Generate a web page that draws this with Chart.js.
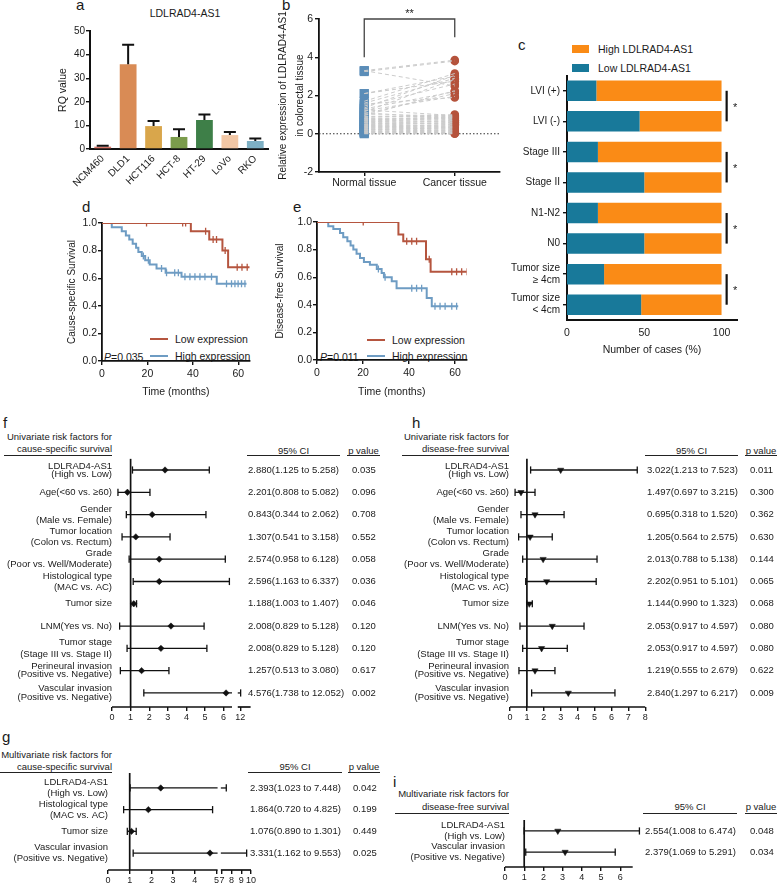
<!DOCTYPE html>
<html><head><meta charset="utf-8">
<script src="https://cdn.jsdelivr.net/npm/chart.js@4.4.1/dist/chart.umd.min.js"></script>
<style>
html,body{margin:0;padding:0;background:#fff;}
body{width:778px;height:884px;position:relative;overflow:hidden;font-family:"Liberation Sans",Arial,Helvetica,sans-serif;color:#1a1a1a;}
canvas{position:absolute;}
.t{position:absolute;white-space:nowrap;line-height:1;}
.pl{font-size:15px;}
.hd{position:absolute;font-size:9.5px;line-height:12px;text-align:right;white-space:nowrap;}
.ul{position:absolute;height:1.4px;background:#222;}
.ch{position:absolute;font-size:9.5px;line-height:11px;text-align:center;white-space:nowrap;}
.lg{position:absolute;font-size:10.5px;line-height:12px;white-space:nowrap;}
.sw{position:absolute;}
</style></head><body>
<div class="t pl" style="left:76px;top:-3px">a</div>
<div class="t pl" style="left:282px;top:-3px">b</div>
<div class="t pl" style="left:518px;top:37px">c</div>
<div class="t pl" style="left:82px;top:199px">d</div>
<div class="t pl" style="left:293px;top:199px">e</div>
<div class="t pl" style="left:3px;top:415px">f</div>
<div class="t pl" style="left:412px;top:415px">h</div>
<div class="t pl" style="left:2px;top:729px">g</div>
<div class="t pl" style="left:393px;top:774px">i</div>

<div class="lg" style="left:135px;top:7px;width:100px;text-align:center">LDLRAD4-AS1</div>

<div class="sw" style="left:572px;top:45px;width:17px;height:8px;background:#FA8B16"></div>
<div class="lg" style="left:598px;top:43px">High LDLRAD4-AS1</div>
<div class="sw" style="left:572px;top:64px;width:17px;height:8px;background:#18799A"></div>
<div class="lg" style="left:598px;top:62px">Low LDLRAD4-AS1</div>

<div class="sw" style="left:150px;top:338px;width:18px;height:2.2px;background:#B5553F"></div>
<div class="lg" style="left:175px;top:333px">Low expression</div>
<div class="sw" style="left:150px;top:355px;width:18px;height:2.2px;background:#6E9CC3"></div>
<div class="lg" style="left:175px;top:350px">High expression</div>
<div class="lg" style="left:104px;top:351px"><i>P</i>=0.035</div>

<div class="sw" style="left:367px;top:339px;width:18px;height:2.2px;background:#B5553F"></div>
<div class="lg" style="left:392px;top:334px">Low expression</div>
<div class="sw" style="left:367px;top:355px;width:18px;height:2.2px;background:#6E9CC3"></div>
<div class="lg" style="left:392px;top:350px">High expression</div>
<div class="lg" style="left:320px;top:351px"><i>P</i>=0.011</div>

<div class="hd" style="left:0px;top:431px;width:112px">Univariate risk factors for<br>cause-specific survival</div>
<div class="ul" style="left:4px;top:455px;width:108px"></div>
<div class="ch" style="left:247px;top:445px;width:93px">95% CI</div>
<div class="ul" style="left:247px;top:455px;width:93px"></div>
<div class="ch" style="left:347px;top:445px;width:33px">p value</div>
<div class="ul" style="left:347px;top:455px;width:33px"></div>

<div class="hd" style="left:395px;top:431px;width:114px">Univariate risk factors for<br>disease-free survival</div>
<div class="ul" style="left:402px;top:455px;width:107px"></div>
<div class="ch" style="left:645px;top:445px;width:93px">95% CI</div>
<div class="ul" style="left:645px;top:455px;width:93px"></div>
<div class="ch" style="left:745px;top:445px;width:32px">p value</div>
<div class="ul" style="left:745px;top:455px;width:32px"></div>

<div class="hd" style="left:0px;top:749px;width:112px">Multivariate risk factors for<br>cause-specific survival</div>
<div class="ul" style="left:0px;top:772px;width:112px"></div>
<div class="ch" style="left:248px;top:761px;width:94px">95% CI</div>
<div class="ul" style="left:248px;top:772px;width:94px"></div>
<div class="ch" style="left:348px;top:761px;width:32px">p value</div>
<div class="ul" style="left:348px;top:772px;width:32px"></div>

<div class="hd" style="left:395px;top:787px;width:114px;line-height:13px">Multivariate risk factors for<br>disease-free survival</div>
<div class="ul" style="left:395px;top:813px;width:114px"></div>
<div class="ch" style="left:643px;top:801px;width:94px">95% CI</div>
<div class="ul" style="left:643px;top:813px;width:94px"></div>
<div class="ch" style="left:745px;top:801px;width:32px">p value</div>
<div class="ul" style="left:745px;top:813px;width:32px"></div>

<canvas id="ca" width="275" height="190" style="left:0px;top:0px"></canvas>
<canvas id="cb" width="270" height="195" style="left:250px;top:0px"></canvas>
<canvas id="cc" width="283" height="330" style="left:495px;top:30px"></canvas>
<canvas id="cd" width="225" height="207" style="left:30px;top:195px"></canvas>
<canvas id="ce" width="225" height="207" style="left:250px;top:195px"></canvas>
<canvas id="cf" width="390" height="290" style="left:0px;top:440px"></canvas>
<canvas id="ch" width="393" height="290" style="left:385px;top:440px"></canvas>
<canvas id="cg" width="390" height="124" style="left:0px;top:760px"></canvas>
<canvas id="ci" width="393" height="78" style="left:385px;top:806px"></canvas>

<script>
// ================= DATA =================
// (a) RQ values by cell line
const cellLines = ['NCM460','DLD1','HCT116','HCT-8','HT-29','LoVo','RKO'];
const rqMean  = [1.0, 35.9, 9.7, 5.1, 12.3, 5.9, 3.4];
const rqUpper = [1.4, 44.2, 11.9, 8.4, 14.6, 7.2, 4.4];

// (b) paired expression, normal vs cancer tissue
const tissueGroups = ['Normal tissue','Cancer tissue'];
const normalExpr = [3.30,3.30,3.25,2.10,2.10,1.70,1.60,1.45,1.35,1.30,1.20,1.15,1.05,1.00,0.95,0.90,0.85,0.80,0.78,0.75,0.70,0.68,0.65,0.60,0.58,0.55,0.50,0.48,0.45,0.42,0.40,0.38,0.35,0.32,0.30,0.28,0.25,0.22,0.20,0.18,0.15,0.12,0.10,0.08,0.05,0.03,0.00,1.55,1.25,1.10];
const cancerExpr = [3.85,2.50,3.80,3.00,2.75,3.15,2.90,2.60,3.05,2.20,1.95,2.85,2.10,0.95,2.25,0.90,1.00,0.85,0.80,0.70,0.90,0.75,0.60,0.85,0.65,0.50,0.70,0.55,0.40,0.60,0.35,0.45,0.30,0.50,0.25,0.40,0.20,0.30,0.15,0.35,0.10,0.20,0.05,0.15,0.02,0.08,0.00,1.90,0.95,0.80];

// (c) clinical groups, % of cases
const clinGroups = ['LVI (+)','LVI (-)','Stage III','Stage II','N1-N2','N0',['Tumor size','≥ 4cm'],['Tumor size','< 4cm']];
const lowPct  = [19, 47, 20, 50, 20, 50, 24, 48];
const highPct = [81, 53, 80, 50, 80, 50, 76, 52];
const sigPairs = [[0,1],[2,3],[4,5],[6,7]];

// (d) cause-specific survival (Kaplan-Meier)
const csLowTime  = [0, 39.1, 47.2, 53.0, 55.5, 65.0];
const csLowSurv  = [1, 0.94, 0.88, 0.80, 0.68, 0.68];
const csLowCens  = [19.6, 35.5, 36.8, 45.6, 48.9, 50.4, 54.2, 59.5, 61.6, 63.9];
const csHighTime = [0, 4.3, 8.7, 10.5, 12.0, 13.5, 15.0, 16.0, 17.5, 19.0, 21.0, 24.0, 28.0, 35.0, 50.5, 63.6];
const csHighSurv = [1, 0.97, 0.94, 0.91, 0.88, 0.85, 0.82, 0.79, 0.76, 0.73, 0.70, 0.67, 0.64, 0.61, 0.56, 0.56];
const csHighCens = [18.2, 20.4, 26.2, 28.4, 32.0, 33.6, 36.5, 38.7, 40.9, 43.1, 45.3, 48.2, 54.8, 57.0, 58.5, 59.9, 61.4, 62.9];

// (e) disease-free survival (Kaplan-Meier)
const dfsLowTime  = [0, 35.4, 37.5, 47.4, 49.4, 65.3];
const dfsLowSurv  = [1, 0.91, 0.86, 0.73, 0.64, 0.64];
const dfsLowCens  = [20.1, 39.0, 41.2, 43.3, 48.8, 58.6, 60.7, 62.9, 65.1];
const dfsHighTime = [0, 4.9, 7.1, 10.0, 11.4, 13.2, 14.6, 15.8, 17.2, 18.7, 20.4, 23.0, 26.0, 28.1, 29.1, 32.5, 34.6, 47.7, 49.9, 61.4];
const dfsHighSurv = [1, 0.97, 0.95, 0.92, 0.89, 0.86, 0.83, 0.80, 0.77, 0.74, 0.71, 0.69, 0.66, 0.63, 0.60, 0.57, 0.52, 0.45, 0.39, 0.39];
const dfsHighCens = [26.7, 29.6, 41.2, 43.3, 45.5, 51.3, 53.5, 55.7, 58.6, 60.7];

const kmTicks = [0, 20, 40, 60];

// (f)/(h) univariate factors
const uniFactors = [['LDLRAD4-AS1','(High vs. Low)'],'Age(<60 vs. ≥60)',['Gender','(Male vs. Female)'],['Tumor location','(Colon vs. Rectum)'],['Grade','(Poor vs. Well/Moderate)'],['Histological type','(MAC vs. AC)'],'Tumor size','LNM(Yes vs. No)',['Tumor stage','(Stage III vs. Stage II)'],['Perineural invasion','(Positive vs. Negative)'],['Vascular invasion','(Positive vs. Negative)']];
// (f) cause-specific, univariate (plotted HR and CI)
const csUniHR = [2.85, 0.83, 2.16, 1.28, 2.54, 2.54, 1.17, 3.17, 2.63, 1.59, 6.13];
const csUniLo = [1.10, 0.32, 0.77, 0.54, 0.92, 1.14, 1.01, 0.41, 0.81, 0.45, 1.71];
const csUniHi = [5.23, 2.04, 5.05, 3.12, 6.09, 6.31, 1.32, 4.95, 5.10, 3.06, 12.05];
const csUniCI = ['2.880(1.125 to 5.258)','2.201(0.808 to 5.082)','0.843(0.344 to 2.062)','1.307(0.541 to 3.158)','2.574(0.958 to 6.128)','2.596(1.163 to 6.337)','1.188(1.003 to 1.407)','2.008(0.829 to 5.128)','2.008(0.829 to 5.128)','1.257(0.513 to 3.080)','4.576(1.738 to 12.052)'];
const csUniP  = ['0.035','0.096','0.708','0.552','0.058','0.036','0.046','0.120','0.120','0.617','0.002'];
const csUniTicks = ['0','1','2','3','4','5','6','12'];
// (h) disease-free, univariate
const dfsUniHR = [3.00, 0.65, 1.48, 1.19, 1.96, 2.17, 1.14, 2.50, 1.87, 1.48, 3.45];
const dfsUniLo = [1.22, 0.30, 0.65, 0.51, 0.75, 0.93, 0.99, 0.59, 0.75, 0.53, 1.28];
const dfsUniHi = [7.53, 1.48, 3.20, 2.50, 5.15, 5.10, 1.32, 4.38, 3.39, 2.66, 6.21];
const dfsUniCI = ['3.022(1.213 to 7.523)','1.497(0.697 to 3.215)','0.695(0.318 to 1.520)','1.205(0.564 to 2.575)','2.013(0.788 to 5.138)','2.202(0.951 to 5.101)','1.144(0.990 to 1.323)','2.053(0.917 to 4.597)','2.053(0.917 to 4.597)','1.219(0.555 to 2.679)','2.840(1.297 to 6.217)'];
const dfsUniP  = ['0.011','0.300','0.362','0.630','0.144','0.065','0.068','0.080','0.080','0.622','0.009'];
const dfsUniTicks = ['0','1','2','3','4','5','6','7','8'];
// (g) cause-specific, multivariate
const csMultiFactors = [['LDLRAD4-AS1','(High vs. Low)'],['Histological type','(MAC vs. AC)'],'Tumor size',['Vascular invasion','(Positive vs. Negative)']];
const csMultiHR = [2.43, 1.86, 1.08, 4.70];
const csMultiLo = [1.02, 0.72, 0.89, 1.16];
const csMultiHi = [7.45, 4.82, 1.30, 9.55];
const csMultiCI = ['2.393(1.023 to 7.448)','1.864(0.720 to 4.825)','1.076(0.890 to 1.301)','3.331(1.162 to 9.553)'];
const csMultiP  = ['0.042','0.199','0.449','0.025'];
const csMultiTicks = ['0','1','2','3','4','5','7','8','9','10'];
// (i) disease-free, multivariate
const dfsMultiFactors = [['LDLRAD4-AS1','(High vs. Low)'],['Vascular invasion','(Positive vs. Negative)']];
const dfsMultiHR = [2.75, 3.13];
const dfsMultiLo = [1.00, 1.08];
const dfsMultiHi = [7.00, 5.74];
const dfsMultiCI = ['2.554(1.008 to 6.474)','2.379(1.069 to 5.291)'];
const dfsMultiP  = ['0.048','0.034'];
const dfsMultiTicks = ['0','1','2','3','4','5','6'];

// ================= STYLE =================
const FONT = '"Liberation Sans", Arial, Helvetica, sans-serif';
const INK = '#111';
const rqColors = ['#D9776A','#D98B55','#D9A64B','#7B9C4C','#3E7F48','#F2C7A5','#7EB0C4'];
const RED = '#B5553F', BLUE = '#6E9CC3';
const TEAL = '#18799A', ORANGE = '#FA8B16';
const uniTightRows = [0, 9, 10];   // rows whose two label lines sit closer together

Chart.defaults.font.family = FONT;
Chart.defaults.font.size = 10;
Chart.defaults.color = '#1a1a1a';
Chart.defaults.animation = false;
Chart.defaults.responsive = false;
Chart.defaults.devicePixelRatio = 1;
Chart.defaults.events = [];
Chart.defaults.plugins.legend.display = false;
Chart.defaults.plugins.tooltip.enabled = false;

const tickGrid = (len) => ({display:true, drawOnChartArea:false, drawTicks:true, tickLength:len, color:INK, lineWidth:1.4, offset:false});
const border = (w) => ({display:true, color:INK, width:w});

// ================= (a) =================
const errPlugin = {
  id:'errA',
  afterDatasetsDraw(chart){
    const {ctx, scales:{x,y}} = chart;
    ctx.save(); ctx.strokeStyle = INK; ctx.lineWidth = 2;
    rqMean.forEach((m,i)=>{
      const px = x.getPixelForValue(i), y0 = y.getPixelForValue(m), y1 = y.getPixelForValue(rqUpper[i]);
      ctx.beginPath(); ctx.moveTo(px,y0); ctx.lineTo(px,y1); ctx.moveTo(px-6,y1); ctx.lineTo(px+6,y1); ctx.stroke();
    });
    ctx.restore();
  }
};
new Chart(document.getElementById('ca'), {
  type:'bar',
  data:{labels:cellLines, datasets:[{data:rqMean, backgroundColor:rqColors, barPercentage:0.66, categoryPercentage:1}]},
  options:{
    layout:{padding:{left:53,right:7,top:31,bottom:0}},
    scales:{
      x:{grid:{display:false,drawTicks:false}, border:border(2), ticks:{minRotation:45,maxRotation:45,autoSkip:false,padding:4,font:{size:10}}, afterFit:s=>{s.height=41;}},
      y:{min:0,max:50, ticks:{stepSize:10,padding:1,font:{size:10}}, border:border(2), grid:tickGrid(4),
         title:{display:true,text:'RQ value',font:{size:10.5},padding:{top:4,bottom:0}}, afterFit:s=>{s.width=37;}}
    }
  },
  plugins:[errPlugin]
});

// ================= (b) =================
const bPlugin = {
  id:'bExtras',
  beforeDatasetsDraw(chart){
    const {ctx, chartArea:ca, scales:{x,y}} = chart;
    ctx.save();
    ctx.strokeStyle = '#333'; ctx.lineWidth = 1; ctx.setLineDash([1.5,2]);
    const y0 = y.getPixelForValue(0);
    ctx.beginPath(); ctx.moveTo(ca.left, y0); ctx.lineTo(ca.right, y0); ctx.stroke();
    ctx.restore();
  },
  afterDraw(chart){
    const {ctx, scales:{x,y}} = chart;
    const xl = x.getPixelForValue(1), xr = x.getPixelForValue(3);
    const yt = y.getPixelForValue(6), yl = y.getPixelForValue(4), yr = y.getPixelForValue(5.05);
    ctx.save(); ctx.strokeStyle = '#444'; ctx.lineWidth = 1.3;
    ctx.beginPath(); ctx.moveTo(xl,yl); ctx.lineTo(xl,yt); ctx.lineTo(xr,yt); ctx.lineTo(xr,yr); ctx.stroke();
    ctx.fillStyle = '#222'; ctx.font = '11px ' + FONT; ctx.textAlign = 'center'; ctx.textBaseline = 'middle';
    ctx.fillText('**', (xl+xr)/2, yt - 5);
    ctx.restore();
  }
};
const pairSets = normalExpr.map((n,i)=>({
  data:[{x:1,y:n},{x:3,y:cancerExpr[i]}], showLine:true, borderColor:'#cbcbcb', borderWidth:1,
  borderDash:[4,3], pointRadius:0
}));
new Chart(document.getElementById('cb'), {
  type:'scatter',
  data:{datasets:[...pairSets,
    {data:normalExpr.map(v=>({x:1,y:v})), pointStyle:'rect', pointRadius:6.4, backgroundColor:'#5B8DB8', borderColor:'#5B8DB8', borderWidth:0},
    {data:cancerExpr.map(v=>({x:3,y:v})), pointStyle:'circle', pointRadius:4.3, backgroundColor:'#B5533C', borderColor:'#B5533C', borderWidth:0}
  ]},
  options:{
    layout:{padding:{left:20.5,right:20,top:19,bottom:0}},
    scales:{
      x:{type:'linear',min:0,max:4, border:border(1.8), grid:tickGrid(4),
         ticks:{autoSkip:false,maxRotation:0,padding:1,font:{size:10.5},callback:(v,i)=>tissueGroups[i]},
         afterBuildTicks:s=>{s.ticks=[{value:1},{value:3}];}, afterFit:s=>{s.height=23;}},
      y:{min:-2,max:6, ticks:{stepSize:2,padding:2,font:{size:10.5}}, border:border(1.8), grid:tickGrid(4),
         title:{display:true,text:['Relative expression of LDLRAD4-AS1','in colorectal tissue'],font:{size:10,lineHeight:1.7},padding:{top:4,bottom:0}},
         afterFit:s=>{s.width=48.5;}}
    }
  },
  plugins:[bPlugin]
});

// ================= (c) =================
const cPlugin = {
  id:'cSig',
  afterDraw(chart){
    const {ctx, scales:{x,y}} = chart;
    ctx.save(); ctx.strokeStyle = INK; ctx.lineWidth = 2.2; ctx.fillStyle = '#222';
    ctx.font = '11px ' + FONT; ctx.textAlign = 'center'; ctx.textBaseline = 'middle';
    const px = x.getPixelForValue(103.3);
    sigPairs.forEach(([a,b])=>{
      const ya = y.getPixelForValue(a), yb = y.getPixelForValue(b);
      ctx.beginPath(); ctx.moveTo(px,ya); ctx.lineTo(px,yb); ctx.stroke();
      ctx.fillText('*', px + 8.5, (ya+yb)/2 + 2);
    });
    ctx.restore();
  }
};
new Chart(document.getElementById('cc'), {
  type:'bar',
  data:{labels:clinGroups, datasets:[
    {label:'Low LDLRAD4-AS1', data:lowPct, backgroundColor:TEAL, barPercentage:0.67, categoryPercentage:1},
    {label:'High LDLRAD4-AS1', data:highPct, backgroundColor:ORANGE, barPercentage:0.67, categoryPercentage:1}
  ]},
  options:{
    indexAxis:'y',
    layout:{padding:{left:0,right:41,top:45.5,bottom:0}},
    scales:{
      x:{type:'linear',stacked:true,min:0,max:110, border:border(2), grid:{display:false,drawTicks:false},
         ticks:{padding:7,font:{size:10.5},maxRotation:0}, afterBuildTicks:s=>{s.ticks=[{value:0},{value:50},{value:100}];},
         title:{display:true,text:'Number of cases (%)',font:{size:10.5},padding:{top:2,bottom:4}}, afterFit:s=>{s.height=40;}},
      y:{stacked:true, border:border(2), grid:tickGrid(4), ticks:{autoSkip:false,padding:3,font:{size:10,lineHeight:1.2}}, afterFit:s=>{s.width=72;}}
    }
  },
  plugins:[cPlugin]
});

// ================= (d),(e) KM =================
function survAt(times, surv, t){ let s = surv[0]; for (let i=0;i<times.length;i++){ if (times[i] <= t) s = surv[i]; } return s; }
function kmChart(id, lowT, lowS, lowC, highT, highS, highC, yTitle, pad, yw, xh){
  const pts = (T,S)=>T.map((t,i)=>({x:t,y:S[i]}));
  new Chart(document.getElementById(id), {
    type:'line',
    data:{datasets:[
      {data:pts(lowT,lowS), stepped:true, borderColor:RED, borderWidth:2, pointRadius:0, fill:false},
      {data:pts(highT,highS), stepped:true, borderColor:BLUE, borderWidth:2, pointRadius:0, fill:false},
      {data:lowC.map(t=>({x:t,y:survAt(lowT,lowS,t)})), showLine:false, pointStyle:'line', pointRotation:90, pointRadius:3.5, borderColor:RED, backgroundColor:RED, borderWidth:1.3},
      {data:highC.map(t=>({x:t,y:survAt(highT,highS,t)})), showLine:false, pointStyle:'line', pointRotation:90, pointRadius:3.5, borderColor:BLUE, backgroundColor:BLUE, borderWidth:1.3}
    ]},
    options:{
      layout:{padding:pad},
      scales:{
        x:{type:'linear',min:0,max:65, border:border(1.8), grid:tickGrid(4),
           ticks:{padding:3,font:{size:10.5},maxRotation:0}, afterBuildTicks:s=>{s.ticks=kmTicks.map(v=>({value:v}));},
           title:{display:true,text:'Time (months)',font:{size:10.5},padding:{top:2,bottom:4}}, afterFit:s=>{s.height=xh;}},
        y:{min:0,max:1, border:border(1.8), grid:tickGrid(4),
           ticks:{stepSize:0.2,padding:1,font:{size:10.5},callback:v=>v.toFixed(1)},
           title:{display:true,text:yTitle,font:{size:10},padding:{top:4,bottom:0}}, afterFit:s=>{s.width=yw;}}
      }
    }
  });
}
kmChart('cd', csLowTime, csLowSurv, csLowCens, csHighTime, csHighSurv, csHighCens, 'Cause-specific Survival', {left:32,right:5,top:28,bottom:0}, 40, 41);
kmChart('ce', dfsLowTime, dfsLowSurv, dfsLowCens, dfsHighTime, dfsHighSurv, dfsHighCens, 'Disease-free Survival', {left:20,right:8.5,top:27,bottom:0}, 47, 42);

// ================= forest plots =================
function forest(id, cfg){
  const plugin = {
    id:'forest_'+id,
    beforeDatasetsDraw(chart){
      const {ctx, chartArea:ca, scales:{x,y}} = chart;
      const X = v => x.getPixelForValue(v);
      const line = (a,b,c,d)=>{ctx.beginPath(); ctx.moveTo(a,b); ctx.lineTo(c,d); ctx.stroke();};
      ctx.save(); ctx.strokeStyle = INK;
      ctx.lineWidth = 1.7;
      const x1 = X(cfg.map(1));
      line(x1, ca.top, x1, ca.bottom);
      cfg.axis.forEach(([a,b])=>line(X(a), ca.bottom, X(b), ca.bottom));
      ctx.lineWidth = 1.3;
      cfg.lo.forEach((lo,i)=>{
        const py = y.getPixelForValue(i);
        const pa = cfg.map(lo), pb = cfg.map(cfg.hi[i]);
        const segs = (cfg.brk && pb > cfg.brk[1]) ? [[pa,cfg.brk[0]],[cfg.brk[1],pb]] : [[pa,pb]];
        segs.forEach(([a,b])=>line(X(a),py,X(b),py));
        [pa,pb].forEach(p=>{const px = X(p); line(px,py-3.6,px,py+3.6);});
      });
      ctx.restore();
    },
    afterDraw(chart){
      const {ctx, scales:{y}} = chart;
      ctx.save(); ctx.fillStyle = '#1a1a1a'; ctx.font = '9.5px ' + FONT;
      ctx.textAlign = 'left'; ctx.textBaseline = 'middle';
      cfg.ci.forEach((t,i)=>{
        const py = y.getPixelForValue(i);
        ctx.fillText(t, cfg.ciX, py);
        ctx.fillText(cfg.p[i], cfg.pX, py);
      });
      ctx.restore();
    }
  };
  const tight = cfg.tight || [];
  new Chart(document.getElementById(id), {
    type:'scatter',
    data:{datasets:[{data:cfg.hr.map((v,i)=>({x:cfg.map(v),y:i})), pointStyle:cfg.marker, pointRotation:cfg.rot, pointRadius:cfg.r, backgroundColor:INK, borderColor:INK, borderWidth:0.5}]},
    options:{
      layout:{padding:cfg.pad},
      scales:{
        x:{type:'linear',min:0,max:cfg.xmax, border:{display:false}, grid:tickGrid(4),
           ticks:{autoSkip:false,maxRotation:0,padding:1.5,font:{size:9},callback:(v,i)=>cfg.tickLabels[i]},
           afterBuildTicks:s=>{s.ticks=cfg.tickPos.map(v=>({value:v}));}, afterFit:s=>{s.height=cfg.xh;}},
        y:{type:'linear',reverse:true,min:cfg.ymin,max:cfg.ymax, border:{display:false}, grid:{display:false,drawTicks:false},
           ticks:{autoSkip:false,padding:cfg.lp,
                  font:(c)=>({size:9.5, lineHeight: tight.includes(c.index) ? 0.86 : 1.17}),
                  callback:v=>cfg.labels[v]},
           afterBuildTicks:s=>{s.ticks=cfg.labels.map((_,i)=>({value:i}));}, afterFit:s=>{s.width=cfg.yw;}}
      }
    },
    plugins:[plugin]
  });
}
const mapF = v => v <= 6.5 ? v : 6.9 + (v - 12) * 0.3;
const mapG = v => v <= 5.1 ? v : 5.25 + (v - 7) * 0.447;
const ident = v => v;

forest('cf', {labels:uniFactors, hr:csUniHR, lo:csUniLo, hi:csUniHi, ci:csUniCI, p:csUniP, tight:uniTightRows,
  map:mapF, tickPos:[0,1,2,3,4,5,6,mapF(12)], tickLabels:csUniTicks, axis:[[0,6.45],[6.76,7.45]], brk:[6.45,6.76],
  marker:'rectRot', rot:0, r:3.2, pad:{left:0,right:139.4,top:18.85,bottom:0}, yw:112, xh:23, ymin:-0.5, ymax:10.63, xmax:7.45, lp:0, ciX:248, pX:352});
forest('ch', {labels:uniFactors, hr:dfsUniHR, lo:dfsUniLo, hi:dfsUniHi, ci:dfsUniCI, p:dfsUniP, tight:uniTightRows,
  map:ident, tickPos:[0,1,2,3,4,5,6,7,8], tickLabels:dfsUniTicks, axis:[[0,8]], brk:null,
  marker:'triangle', rot:180, r:3.6, pad:{left:0,right:132.8,top:18.85,bottom:0}, yw:125, xh:23, ymin:-0.5, ymax:10.63, xmax:8, lp:1, ciX:262, pX:365});
forest('cg', {labels:csMultiFactors, hr:csMultiHR, lo:csMultiLo, hi:csMultiHi, ci:csMultiCI, p:csMultiP, tight:[],
  map:mapG, tickPos:[0,1,2,3,4,5,mapG(7),mapG(8),mapG(9),mapG(10)], tickLabels:csMultiTicks, axis:[[0,5.05],[5.2,6.59]], brk:[5.05,5.2],
  marker:'rectRot', rot:0, r:3.2, pad:{left:0,right:139,top:13,bottom:0}, yw:108, xh:14, ymin:-0.69, ymax:3.78, xmax:6.59, lp:0, ciX:250, pX:353});
forest('ci', {labels:dfsMultiFactors, hr:dfsMultiHR, lo:dfsMultiLo, hi:dfsMultiHi, ci:dfsMultiCI, p:dfsMultiP, tight:[],
  map:ident, tickPos:[0,1,2,3,4,5,6], tickLabels:dfsMultiTicks, axis:[[0,6.65]], brk:null,
  marker:'triangle', rot:180, r:3.6, pad:{left:0,right:145.3,top:14,bottom:0}, yw:120, xh:17, ymin:-0.52, ymax:1.71, xmax:6.65, lp:0, ciX:260, pX:365});
</script>
</body></html>
